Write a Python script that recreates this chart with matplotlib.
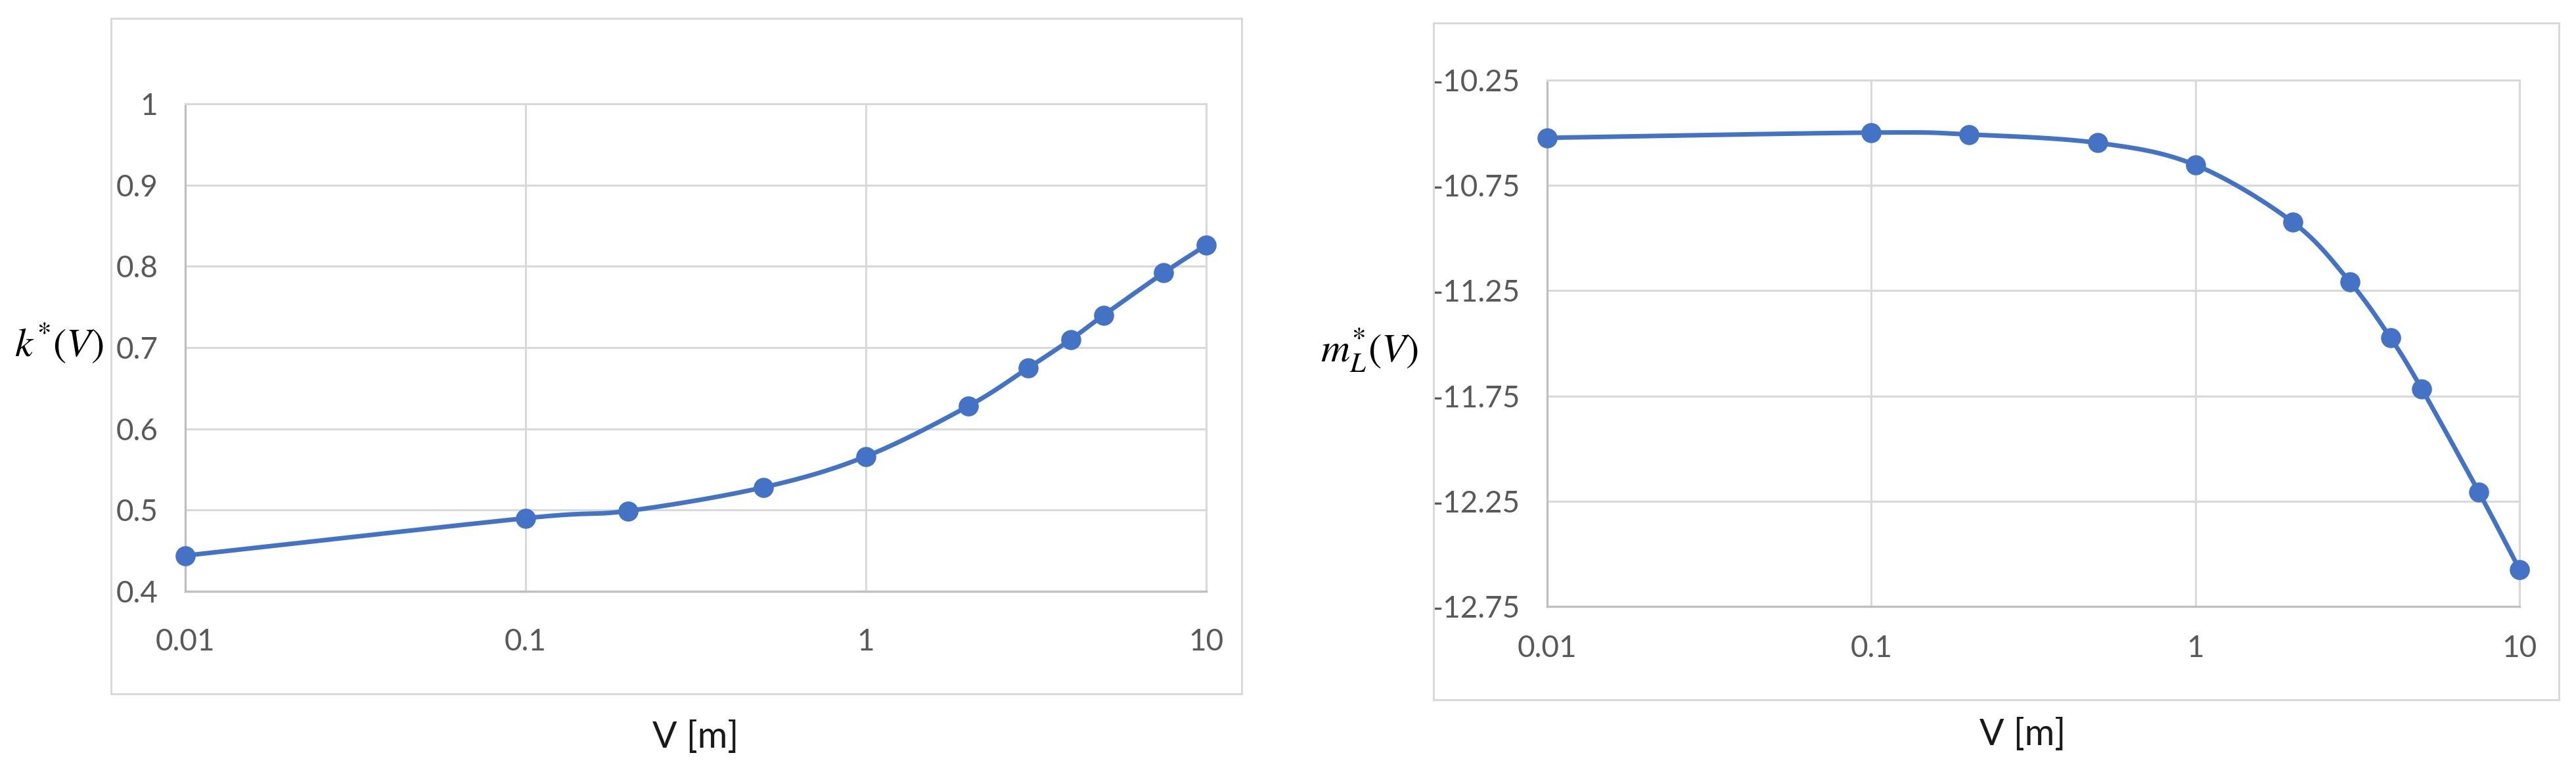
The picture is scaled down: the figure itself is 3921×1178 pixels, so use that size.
import numpy as np
import matplotlib
matplotlib.use("Agg")
import matplotlib.pyplot as plt
from matplotlib.patches import Rectangle
from matplotlib.ticker import FixedLocator, FixedFormatter

plt.rcParams['font.family'] = ['Lato', 'DejaVu Sans']
plt.rcParams['mathtext.fontset'] = 'stix'

# ---- data ----
V = [0.01, 0.1, 0.2, 0.5, 1, 2, 3, 4, 5, 7.5, 10]
k_star = [0.444, 0.490, 0.499, 0.528, 0.566, 0.628, 0.675, 0.710, 0.740, 0.792, 0.826]
mL_star = [-10.524, -10.499, -10.508, -10.548, -10.653, -10.925, -11.209, -11.474, -11.718, -12.208, -12.574]

x_ticks = [0.01, 0.1, 1, 10]
x_ticklabels = ["0.01", "0.1", "1", "10"]
k_ticks = [0.4, 0.5, 0.6, 0.7, 0.8, 0.9, 1.0]
k_ticklabels = ["0.4", "0.5", "0.6", "0.7", "0.8", "0.9", "1"]
m_ticks = [-12.75, -12.25, -11.75, -11.25, -10.75, -10.25]
m_ticklabels = ["-12.75", "-12.25", "-11.75", "-11.25", "-10.75", "-10.25"]

BLUE = "#4472C4"
GRID = "#D9D9D9"
TICKC = "#595959"

W, H = 3921, 1178
fig = plt.figure(figsize=(W / 100, H / 100), dpi=100)


def fx(px):
    return px / W


def fy(py):
    return 1 - py / H


def smooth(ax, xs, ys, n=40):
    """Catmull-Rom curve through the points, in display space."""
    pts = ax.transData.transform(np.column_stack([xs, ys]))
    P = np.vstack([pts[0], pts, pts[-1]])
    out = []
    for i in range(1, len(P) - 2):
        p0, p1, p2, p3 = P[i - 1], P[i], P[i + 1], P[i + 2]
        t = np.linspace(0, 1, n)[:, None]
        c = 0.5 * ((2 * p1) + (-p0 + p2) * t + (2 * p0 - 5 * p1 + 4 * p2 - p3) * t ** 2
                   + (-p0 + 3 * p1 - 3 * p2 + p3) * t ** 3)
        out.append(c)
    out = np.vstack(out)
    data = ax.transData.inverted().transform(out)
    return data[:, 0], data[:, 1]


def make_panel(box, axrect, y_vals, yticks, yticklabels, ylim, ylabel, ylabel_pos,
               xlabel_pos, xpad):
    bx0, by0, bx1, by1 = box
    fig.patches.append(Rectangle((fx(bx0), fy(by1)), fx(bx1 - bx0), (by1 - by0) / H,
                                 transform=fig.transFigure, fill=False,
                                 edgecolor=GRID, linewidth=2.2, zorder=0))
    l, t, r, b = axrect
    ax = fig.add_axes([fx(l), fy(b), fx(r - l), (b - t) / H])
    ax.set_xscale('log')
    ax.set_xlim(0.01, 10)
    ax.set_ylim(*ylim)
    ax.xaxis.set_major_locator(FixedLocator(x_ticks))
    ax.xaxis.set_major_formatter(FixedFormatter(x_ticklabels))
    ax.xaxis.set_minor_locator(FixedLocator([]))
    ax.yaxis.set_major_locator(FixedLocator(yticks))
    ax.yaxis.set_major_formatter(FixedFormatter(yticklabels))
    ax.grid(True, color=GRID, linewidth=2.2)
    ax.set_axisbelow(True)
    for s in ['top', 'right']:
        ax.spines[s].set_color(GRID)
        ax.spines[s].set_linewidth(2.2)
    for s in ['left', 'bottom']:
        ax.spines[s].set_color("#BFBFBF")
        ax.spines[s].set_linewidth(2.4)
    ax.tick_params(axis='both', length=0, labelsize=33, labelcolor=TICKC)
    ax.tick_params(axis='x', pad=xpad)
    ax.tick_params(axis='y', pad=30)
    sx, sy = smooth(ax, V, y_vals)
    ax.plot(sx, sy, color=BLUE, linewidth=5.0, solid_capstyle='round', zorder=3)
    ax.plot(V, y_vals, linestyle='none', marker='o', markersize=21,
            color=BLUE, zorder=4, clip_on=False)
    fig.text(fx(ylabel_pos[0]), fy(ylabel_pos[1]), ylabel, fontsize=44,
             ha='center', va='center', color='black')
    fig.text(fx(xlabel_pos[0]), fy(xlabel_pos[1]), "V [m]", fontsize=40,
             ha='center', va='center', color='#1a1a1a')
    return ax


make_panel((169, 28, 1890, 1056), (282, 158, 1836, 900), k_star, k_ticks, k_ticklabels,
           (0.4, 1.0), r"$k^{*}(V)$", (90, 522), (1059, 1122), 40)
make_panel((2182, 35, 3895, 1065), (2355, 122, 3835, 923), mL_star, m_ticks, m_ticklabels,
           (-12.75, -10.25), r"$m_{L}^{*}(V)$", (2085, 533), (3079, 1119), 31)

fig.savefig("out.png", dpi=100, facecolor='white')
